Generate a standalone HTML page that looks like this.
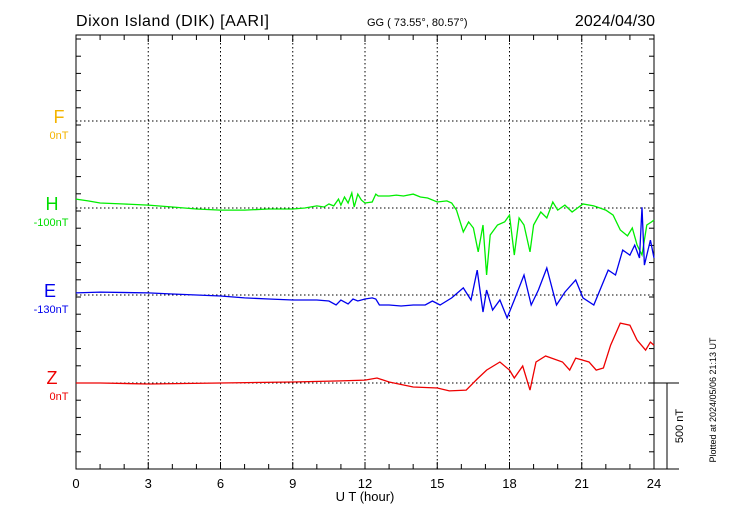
<!DOCTYPE html>
<html><head><meta charset="utf-8"><style>
body{margin:0;background:#fff;}
svg{display:block;font-family:"Liberation Sans",sans-serif;}
</style></head><body>
<svg id="c" width="730" height="520">
<text x="76" y="26" font-size="16" textLength="193">Dixon Island (DIK)  [AARI]</text>
<text x="367" y="26" font-size="11">GG ( 73.55°,  80.57°)</text>
<text x="655" y="26" font-size="16" text-anchor="end">2024/04/30</text>
<g id="grid"></g>
<rect x="76" y="35" width="578" height="434" fill="none" stroke="#000" stroke-width="1"/>
<g id="ticks"></g>
<g id="series"></g>
<text x="59" y="123" font-size="18" fill="#f4b400" text-anchor="middle">F</text>
<text x="59" y="139" font-size="11" fill="#f4b400" text-anchor="middle">0nT</text>
<text x="52" y="210" font-size="18" fill="#00dd00" text-anchor="middle">H</text>
<text x="51" y="226" font-size="11" fill="#00dd00" text-anchor="middle">-100nT</text>
<text x="50" y="297" font-size="18" fill="#0000ee" text-anchor="middle">E</text>
<text x="51" y="313" font-size="11" fill="#0000ee" text-anchor="middle">-130nT</text>
<text x="52" y="384" font-size="18" fill="#ee0000" text-anchor="middle">Z</text>
<text x="59" y="400" font-size="11" fill="#ee0000" text-anchor="middle">0nT</text>
<line x1="654" y1="383" x2="679" y2="383" stroke="#000"/>
<line x1="654" y1="469" x2="679" y2="469" stroke="#000"/>
<line x1="667" y1="383" x2="667" y2="469" stroke="#000"/>
<text transform="translate(683,426) rotate(-90)" font-size="11" text-anchor="middle">500 nT</text>
<text transform="translate(716,400) rotate(-90)" font-size="9" text-anchor="middle">Plotted at 2024/05/06 21:13 UT</text>
<text x="365" y="501" font-size="13" text-anchor="middle">U T (hour)</text>
</svg>
<script>
const xTicks=[0,3,6,9,12,15,18,21,24];
const baselines=[121,208,295,383];
const hHours=[0,0.5,1,2,3,4,5,6,7,8,9,9.5,10,10.3,10.5,10.7,10.9,11.0,11.15,11.3,11.45,11.55,11.7,11.85,12.0,12.3,12.45,12.55,13,13.3,13.6,14,14.3,14.6,15,15.4,15.6,15.8,16.08,16.3,16.5,16.7,16.9,17.05,17.2,17.5,17.8,18,18.2,18.4,18.6,18.85,19,19.3,19.55,19.8,20,20.3,20.6,21.05,21.5,22,22.3,22.6,22.9,23.1,23.3,23.5,23.7,23.9,24];
const hValues=[52,41,29,23,17,6,-6,-12,-12,-6,-6,0,12,6,23,12,52,17,64,29,87,6,81,46,29,35,81,70,70,75,70,81,64,58,35,41,29,-12,-139,-81,-116,-255,-99,-389,-157,-99,-81,-41,-273,-58,-99,-255,-99,-23,-58,35,-12,17,-23,23,12,-12,-41,-128,-162,-116,-215,-273,-99,-81,-70];
const eHours=[0,1,3,4,5,6,7,8,9,10,10.5,10.8,11,11.3,11.5,11.7,12,12.3,12.45,12.6,13,13.5,14,14.5,14.8,15.12,15.6,16.08,16.4,16.66,16.9,17.05,17.3,17.6,17.9,18.2,18.6,18.9,19.2,19.55,19.95,20.3,20.75,21.05,21.5,22.1,22.4,22.7,23,23.2,23.4,23.5,23.6,23.85,24];
const eValues=[12,17,12,6,0,-6,-17,-23,-29,-29,-35,-58,-29,-52,-23,-35,-23,-17,-23,-58,-58,-64,-58,-58,-35,-58,-17,41,-29,145,-99,29,-87,-29,-133,-29,116,-58,29,157,-58,17,87,-17,-58,145,116,261,232,290,215,510,174,319,215];
const zHours=[0,1,3,6,9,11,12,12.5,13,14,15,15.5,16.2,16.66,17.05,17.6,18,18.2,18.55,18.85,19.1,19.5,20.2,20.5,20.75,21.3,21.6,21.9,22.2,22.6,23,23.3,23.65,23.85,24];
const zValues=[0,0,-6,0,6,12,17,29,6,-23,-29,-46,-41,23,75,122,75,29,99,-41,122,157,122,75,145,122,75,87,220,348,336,249,191,238,220];
const X0=76,X1=654,pxPerNT=86/500;
const xs=h=>X0+(X1-X0)*h/24;
const ys=(v,b)=>b-v*pxPerNT;
const NS="http://www.w3.org/2000/svg";
const grid=document.getElementById('grid'),ticks=document.getElementById('ticks'),ser=document.getElementById('series');
function mk(tag,attrs,parent){const e=document.createElementNS(NS,tag);for(const k in attrs)e.setAttribute(k,attrs[k]);parent.appendChild(e);return e;}
xTicks.forEach(t=>{
  if(t>0&&t<24){const l=mk('line',{x1:xs(t),x2:xs(t),y1:35,y2:469,stroke:'#000','stroke-dasharray':'1.5,2.5'},grid);
  
  }
  const tx=mk('text',{x:xs(t),y:488,'font-size':13,'text-anchor':'middle'},ticks);tx.textContent=t;
  
  
});
baselines.forEach(b=>{const l=mk('line',{x1:76,x2:654,y1:b,y2:b,stroke:'#000','stroke-dasharray':'1.5,2.5'},grid);
  
  });
for(let h=0;h<=24;h++){const L=(h%3==0)?7:5;
  const a=mk('line',{x1:xs(h),x2:xs(h),y1:469,y2:469-L,stroke:'#000'},ticks);
  
  
  const b=mk('line',{x1:xs(h),x2:xs(h),y1:35,y2:35+L,stroke:'#000'},ticks);
  
  }
for(let k=0;k<=25;k++){const y=469-k*86/5;if(y<35)break;
  const a=mk('line',{x1:76,x2:81,y1:y,y2:y,stroke:'#000'},ticks);
  
  
  const b=mk('line',{x1:649,x2:654,y1:y,y2:y,stroke:'#000'},ticks);
  
  }
function line(hs,vs,b,col,name){
  const d=hs.map((h,i)=>(i?'L':'M')+xs(h).toFixed(1)+','+ys(vs[i],b).toFixed(1)).join('');
  const p=mk('path',{d:d,fill:'none',stroke:col,'stroke-width':1.3},ser);
  
  
}
line(hHours,hValues,208,'#00ee00','h-series');
line(eHours,eValues,295,'#0000ee','e-series');
line(zHours,zValues,383,'#ee0000','z-series');
</script>
</body></html>
